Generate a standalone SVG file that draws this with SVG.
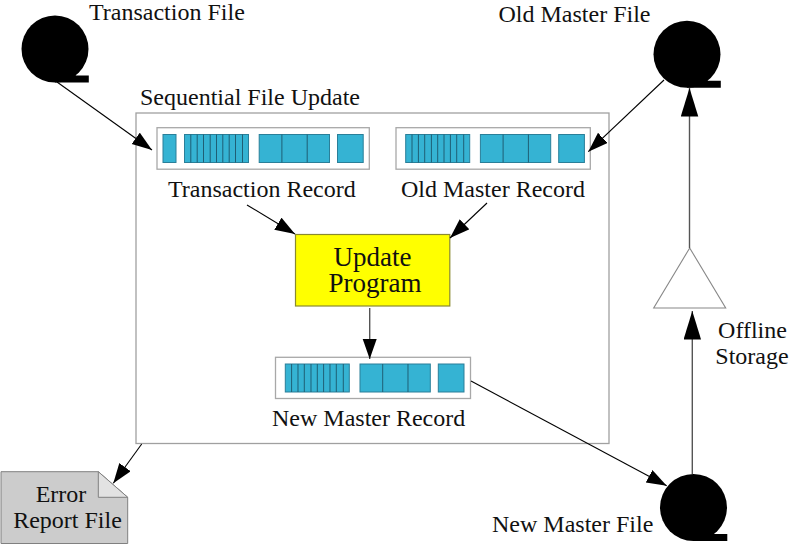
<svg xmlns="http://www.w3.org/2000/svg" width="790" height="544" viewBox="0 0 790 544">
<style>
text{font-family:"Liberation Serif","Times New Roman",serif;font-size:24px;fill:#111}
.rec{fill:#fff;stroke:#a8a8a8;stroke-width:1.3}
.b{fill:#35b3d3;stroke:#2a7f99;stroke-width:1}
.d{stroke:#1f5f75;stroke-width:1;fill:none}
.c{stroke:#000;stroke-width:1.100;fill:none}
.v{stroke:#555;stroke-width:1.400;fill:none}
</style>
<defs>
<marker id="a" markerUnits="userSpaceOnUse" markerWidth="22" markerHeight="16" refX="20" refY="7" orient="auto"><path d="M0,0L20,7L0,14Z" fill="#000"/></marker>
<marker id="A" markerUnits="userSpaceOnUse" markerWidth="30" markerHeight="20" refX="28.500" refY="8.750" orient="auto"><path d="M0,0L28.500,8.750L0,17.500Z" fill="#000"/></marker>
<g id="tape"><circle cx="0" cy="0" r="33.500" fill="#000"/><path d="M0,33.500H33.800V26.500H21L12,18L0,20Z" fill="#000"/></g>
<g id="blocks"><rect class="b" x="0" y="0" width="64" height="28"/><path class="d" d="M6.300,0V28M12.700,0V28M19,0V28M25.700,0V28M32,0V28M38.300,0V28M44.700,0V28M51,0V28M58,0V28"/><rect class="b" x="74.700" y="0" width="70.300" height="28"/><path class="d" d="M97.400,0V28M122.700,0V28"/><rect class="b" x="153" y="0" width="25.700" height="28"/></g>
</defs>
<g id="update-box"><rect x="136" y="113" width="473" height="330.500" fill="#fff" stroke="#a0a0a0" stroke-width="1.300"/><text x="140" y="105">Sequential File Update</text></g>
<g id="transaction-file"><use href="#tape" x="55" y="49"/><text x="89" y="20">Transaction File</text></g>
<g id="old-master-file"><use href="#tape" x="687" y="54.300"/><text x="498.500" y="22">Old Master File</text></g>
<g id="new-master-file"><use href="#tape" x="693.500" y="507.500"/><text x="492" y="532">New Master File</text></g>
<g id="transaction-record"><rect class="rec" x="157" y="127.700" width="212.300" height="41.500"/><rect class="b" x="163" y="134.500" width="13" height="28"/><use href="#blocks" x="184.500" y="134.500"/><text x="168" y="197">Transaction Record</text></g>
<g id="old-master-record"><rect class="rec" x="396" y="127.700" width="194.300" height="41.500"/><use href="#blocks" x="405.700" y="134.500"/><text x="401" y="197">Old Master Record</text></g>
<g id="update-program"><rect x="295.500" y="234.500" width="154.300" height="71.500" fill="#ff0" stroke="#8a8a30" stroke-width="1.200"/><text text-anchor="middle" style="font-size:27px"><tspan x="372.500" y="265.700">Update</tspan><tspan x="375" y="292">Program</tspan></text></g>
<g id="new-master-record"><rect class="rec" x="275.500" y="357.300" width="195" height="41.200"/><use href="#blocks" x="285.300" y="364"/><text x="272" y="425.700">New Master Record</text></g>
<g id="offline-storage"><path d="M689.700,248L725.700,308H653.700Z" fill="#fff" stroke="#888" stroke-width="1.100"/><text x="752.500" y="337.700" text-anchor="middle">Offline</text><text x="752" y="363.500" text-anchor="middle">Storage</text></g>
<g id="error-report"><path d="M1,471.700H98.300L127.700,497.300V543.500H1Z" fill="#ccc" stroke="#808080"/><path d="M98.300,471.700V497.300H127.700Z" fill="#e2e2e2" stroke="#808080"/><text x="61" y="502" text-anchor="middle">Error</text><text x="67.500" y="527.700" text-anchor="middle">Report File</text></g>
<g id="connectors">
<path class="c" d="M57,82L152,150" marker-end="url(#a)"/>
<path class="c" d="M664,80L588.300,151.700" marker-end="url(#a)"/>
<path class="c" d="M247,205L295,234" marker-end="url(#a)"/>
<path class="c" d="M487,203L450,238" marker-end="url(#a)"/>
<path class="v" d="M369.700,308V359" marker-end="url(#a)"/>
<path class="c" d="M471,381L666.700,485.700" marker-end="url(#a)"/>
<path class="v" d="M692.300,474V311" marker-end="url(#A)"/>
<path class="v" d="M689.500,248V88" marker-end="url(#A)"/>
<path class="c" d="M141.700,444L113.300,483.300" marker-end="url(#a)"/>
</g>
</svg>
